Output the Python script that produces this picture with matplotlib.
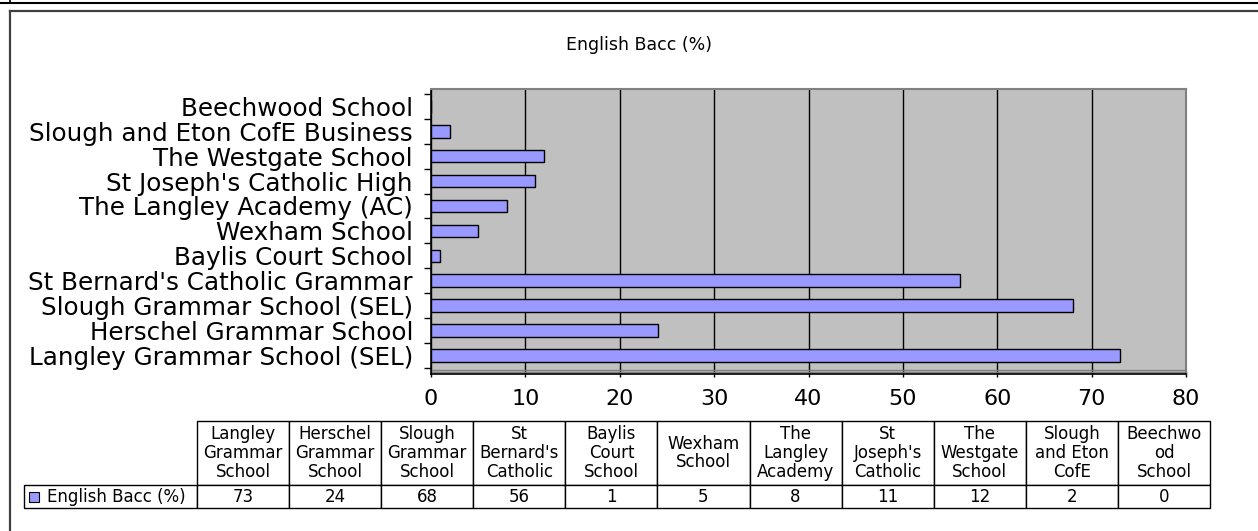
import matplotlib
matplotlib.use("Agg")
import matplotlib.pyplot as plt
from matplotlib.patches import Rectangle
from matplotlib.lines import Line2D

# data
schools = [
    "Langley Grammar School (SEL)",
    "Herschel Grammar School",
    "Slough Grammar School (SEL)",
    "St Bernard's Catholic Grammar",
    "Baylis Court School",
    "Wexham School",
    "The Langley Academy (AC)",
    "St Joseph's Catholic High",
    "The Westgate School",
    "Slough and Eton CofE Business",
    "Beechwood School",
]
table_headers = [
    "Langley\nGrammar\nSchool",
    "Herschel\nGrammar\nSchool",
    "Slough\nGrammar\nSchool",
    "St\nBernard's\nCatholic",
    "Baylis\nCourt\nSchool",
    "Wexham\nSchool",
    "The\nLangley\nAcademy",
    "St\nJoseph's\nCatholic",
    "The\nWestgate\nSchool",
    "Slough\nand Eton\nCofE",
    "Beechwo\nod\nSchool",
]
ebacc = [73, 24, 68, 56, 1, 5, 8, 11, 12, 2, 0]
series_name = "English Bacc (%)"
x_ticks = [0, 10, 20, 30, 40, 50, 60, 70, 80]

W, H = 1258, 531
bar_color = "#9999FF"

fig = plt.figure(figsize=(W / 100, H / 100), dpi=100)


def fx(px):
    return px / W


def fy(py):
    return 1 - py / H


# outer frames (the chart object border)
fig.add_artist(Line2D([0, 1], [fy(2.5), fy(2.5)], color="black", lw=1.5))
fig.add_artist(Line2D([fx(9.5), fx(9.5)], [fy(3), 1], color="black", lw=1.2))
fig.add_artist(Line2D([fx(9.5), 1], [fy(10.5), fy(10.5)], color="#404040", lw=1.6))
fig.add_artist(Line2D([fx(9.5), fx(9.5)], [0, fy(10.5)], color="#404040", lw=1.6))

# plot area
ax_l, ax_r, ax_t, ax_b = 431, 1186, 89, 374
ax = fig.add_axes([fx(ax_l), fy(ax_b), fx(ax_r - ax_l), fy(ax_t) - fy(ax_b)])
ax.set_facecolor("#C0C0C0")

ypos = list(range(len(schools)))
ax.barh(ypos, ebacc, height=0.5, color=bar_color, edgecolor="black",
        linewidth=1, zorder=3)

ax.set_xlim(0, 80)
ax.set_ylim(-0.75, len(schools) - 0.3)
ax.set_xticks(x_ticks)
ax.set_xticklabels([str(t) for t in x_ticks], fontsize=16)
ax.set_yticks(ypos)
ax.set_yticklabels(schools, fontsize=17.7)
ax.tick_params(axis="y", length=0, pad=13)
ax.set_yticks([y - 0.5 for y in ypos] + [len(schools) - 0.5], minor=True)
ax.tick_params(axis="y", which="minor", length=5, width=1, color="black")
ax.tick_params(axis="x", length=5, width=1, direction="inout", pad=8)
ax.xaxis.grid(True, color="black", linewidth=1, zorder=1)
ax.set_axisbelow(True)

# floor strip at the bottom of the plot area
ax.axhline(-0.58, color="#808080", lw=1, zorder=2)
ax.axhline(-0.66, color="#808080", lw=1, zorder=2)

for s in ["top", "right"]:
    ax.spines[s].set_color("#808080")
    ax.spines[s].set_linewidth(1.5)
ax.spines["left"].set_color("black")
ax.spines["bottom"].set_color("black")
ax.spines["left"].set_linewidth(1.2)
ax.spines["bottom"].set_linewidth(1.2)

fig.text(fx(639), fy(45), series_name, ha="center", va="center", fontsize=12.5)

# data table below the chart; first column holds the series name
head_h, row_h = 64, 23
lab_w = 173
tbl_l, tbl_r, tbl_t, tbl_b = 24, 1210, 421, 508
col_w = (tbl_r - tbl_l - lab_w) / len(ebacc)
tbl = ax.table(cellText=[[series_name] + [str(v) for v in ebacc]],
               colLabels=[""] + table_headers,
               cellLoc="center",
               bbox=[(tbl_l - ax_l) / (ax_r - ax_l),
                     (ax_b - tbl_b) / (ax_b - ax_t),
                     (tbl_r - tbl_l) / (ax_r - ax_l),
                     (tbl_b - tbl_t) / (ax_b - ax_t)])
tbl.auto_set_font_size(False)
tbl.set_fontsize(12)
for (r, c), cell in tbl.get_celld().items():
    cell.set_edgecolor("black")
    cell.set_linewidth(1)
    cell.set_height(head_h if r == 0 else row_h)
    cell.set_width(lab_w if c == 0 else col_w)
    if r == 0:
        cell.get_text().set_linespacing(1.05)
    if c == 0:
        if r == 0:
            cell.set_edgecolor("none")
        else:
            cell.get_text().set_horizontalalignment("left")
            cell._loc = "left"
            cell.PAD = 23 / lab_w

# legend key in the table row label
row_mid = (485 + tbl_b) / 2
fig.add_artist(Rectangle((fx(29), fy(row_mid + 5)), fx(10), fy(row_mid - 5) - fy(row_mid + 5),
                         facecolor=bar_color, edgecolor="black", lw=0.8,
                         transform=fig.transFigure))

fig.savefig("out.png", dpi=100)
